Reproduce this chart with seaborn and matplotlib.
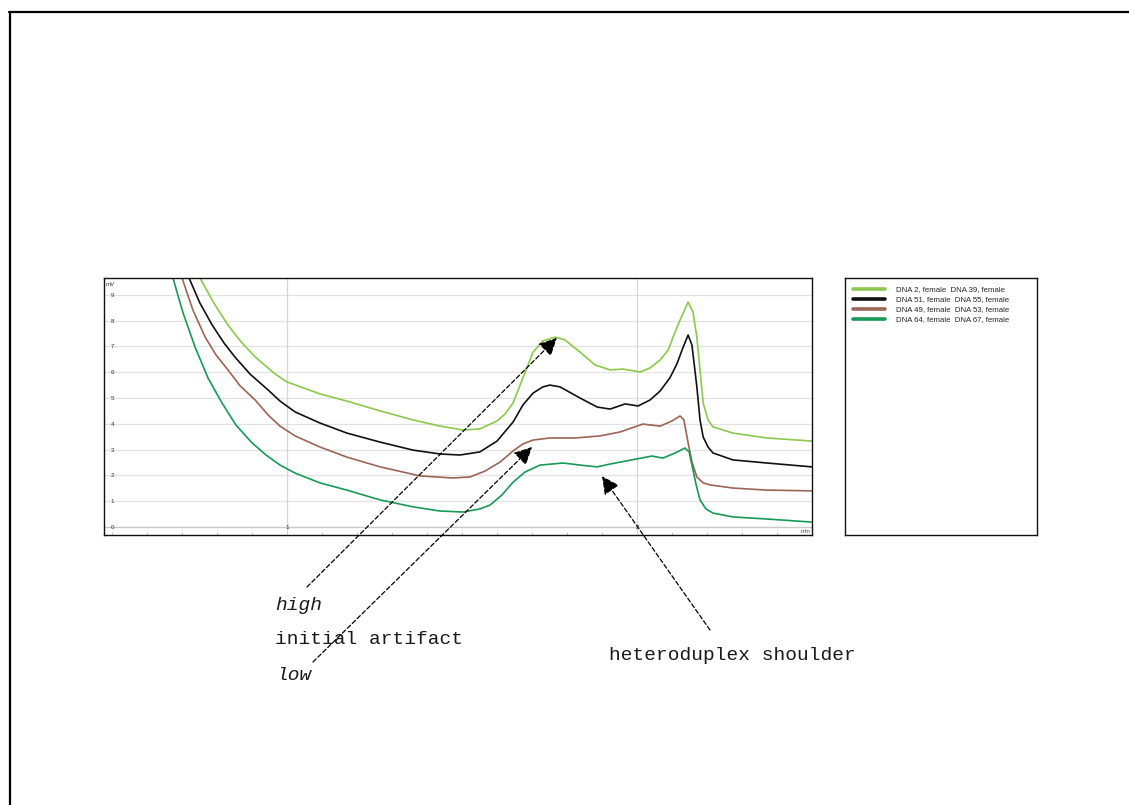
import numpy as np
import pandas as pd
import matplotlib
matplotlib.use("Agg")
import matplotlib.pyplot as plt
from matplotlib.lines import Line2D
import seaborn as sns

# Electropherogram traces (time in min, signal in mV)
labels = [
    "DNA 2, female  DNA 39, female",
    "DNA 51, female  DNA 55, female",
    "DNA 49, female  DNA 53, female",
    "DNA 64, female  DNA 67, female",
]
colors = ["#8cc84b", "#111111", "#9c6556", "#179a55"]

t_dna2 = [0.729, 0.751, 0.791, 0.831, 0.869, 0.909, 0.966, 1.000, 1.094, 1.171, 1.266,
          1.360, 1.437, 1.503, 1.551, 1.600, 1.623, 1.646, 1.674, 1.703, 1.731,
          1.766, 1.794, 1.837, 1.880, 1.923, 1.960, 2.009, 2.037, 2.066, 2.089,
          2.103, 2.123, 2.146, 2.160, 2.171, 2.180, 2.189, 2.203, 2.217, 2.274,
          2.371, 2.500]
mv_dna2 = [10.74, 9.65, 8.68, 7.83, 7.17, 6.59, 5.93, 5.62, 5.16, 4.88, 4.50,
           4.15, 3.91, 3.76, 3.80, 4.11, 4.38, 4.81, 5.78, 6.78, 7.21,
           7.36, 7.25, 6.78, 6.28, 6.09, 6.12, 6.01, 6.16, 6.47, 6.86,
           7.36, 8.02, 8.72, 8.33, 7.36, 6.09, 4.81, 4.15, 3.88, 3.64,
           3.45, 3.33]

t_dna51 = [0.700, 0.720, 0.751, 0.786, 0.820, 0.851, 0.894, 0.946, 0.980, 1.023, 1.094,
           1.171, 1.266, 1.360, 1.437, 1.494, 1.551, 1.600, 1.646, 1.674, 1.703,
           1.731, 1.751, 1.780, 1.837, 1.886, 1.923, 1.966, 2.003, 2.037, 2.066,
           2.094, 2.114, 2.131, 2.146, 2.157, 2.171, 2.180, 2.189, 2.203, 2.217,
           2.274, 2.371, 2.500]
mv_dna51 = [10.43, 9.65, 8.68, 7.83, 7.13, 6.59, 5.93, 5.31, 4.88, 4.46, 4.03,
            3.64, 3.29, 2.98, 2.83, 2.79, 2.91, 3.33, 4.07, 4.73, 5.19,
            5.43, 5.50, 5.43, 5.00, 4.65, 4.57, 4.77, 4.69, 4.92, 5.27,
            5.78, 6.32, 6.94, 7.44, 7.05, 5.43, 4.15, 3.49, 3.10, 2.87,
            2.60, 2.48, 2.33]

t_dna49 = [0.683, 0.700, 0.731, 0.766, 0.797, 0.831, 0.866, 0.909, 0.946, 0.980, 1.023,
           1.094, 1.171, 1.266, 1.380, 1.474, 1.523, 1.566, 1.609, 1.646, 1.674,
           1.703, 1.751, 1.823, 1.894, 1.951, 2.017, 2.066, 2.100, 2.123, 2.134,
           2.146, 2.157, 2.171, 2.189, 2.209, 2.274, 2.371, 2.500]
mv_dna49 = [10.43, 9.65, 8.41, 7.36, 6.67, 6.09, 5.47, 4.92, 4.34, 3.91, 3.53,
            3.10, 2.71, 2.33, 1.98, 1.90, 1.94, 2.17, 2.52, 2.95, 3.22,
            3.37, 3.45, 3.45, 3.53, 3.68, 3.99, 3.91, 4.11, 4.30, 4.15,
            3.26, 2.52, 1.94, 1.71, 1.63, 1.51, 1.43, 1.40]

t_dna64 = [0.660, 0.674, 0.703, 0.737, 0.774, 0.814, 0.854, 0.900, 0.940, 0.980, 1.023,
           1.094, 1.171, 1.266, 1.360, 1.437, 1.503, 1.551, 1.580, 1.614, 1.646,
           1.680, 1.723, 1.789, 1.837, 1.886, 1.923, 2.000, 2.043, 2.074, 2.109,
           2.137, 2.149, 2.157, 2.169, 2.180, 2.197, 2.217, 2.274, 2.371, 2.500]
mv_dna64 = [10.43, 9.65, 8.29, 6.98, 5.78, 4.81, 3.95, 3.26, 2.79, 2.40, 2.09,
            1.71, 1.43, 1.05, 0.78, 0.62, 0.58, 0.70, 0.85, 1.24, 1.74,
            2.13, 2.40, 2.48, 2.40, 2.33, 2.44, 2.64, 2.75, 2.67, 2.87,
            3.06, 2.91, 2.40, 1.63, 1.05, 0.70, 0.54, 0.39, 0.31, 0.19]

traces = [(t_dna2, mv_dna2), (t_dna51, mv_dna51), (t_dna49, mv_dna49), (t_dna64, mv_dna64)]
df = pd.concat(
    [pd.DataFrame({"time": t, "signal": s, "sample": lab}) for (t, s), lab in zip(traces, labels)],
    ignore_index=True,
)

sns.set_theme(style="white")
plt.rcParams["font.family"] = ["Liberation Sans", "DejaVu Sans"]

W, H = 1129, 805
fig = plt.figure(figsize=(W / 100, H / 100), dpi=100)
fig.patch.set_facecolor("white")

def frac(x0, y0, x1, y1):
    return [x0 / W, 1 - y1 / H, (x1 - x0) / W, (y1 - y0) / H]

ax = fig.add_axes(frac(104, 278, 812, 535))
ax.set_xlim(0.477, 2.5)
ax.set_ylim(-0.31, 9.65)

ax.set_yticks(range(0, 10))
ax.set_xticks([1, 2])
ax.set_xticks(np.arange(0.5, 2.5, 0.1), minor=True)
ax.grid(False)
for v in range(1, 10):
    ax.axhline(v, color="#e2e2e2", lw=0.9, zorder=0)
ax.axhline(0, color="#c8c8c8", lw=1.0, zorder=0)
for v in [1, 2]:
    ax.axvline(v, color="#d6d6d6", lw=0.9, zorder=0)

sns.lineplot(data=df, x="time", y="signal", hue="sample", palette=colors,
             hue_order=labels, sort=False, estimator=None, lw=1.2, ax=ax, legend=False)
for ln in ax.get_lines():
    ln.set_solid_joinstyle("round")

ax.set_xlabel("")
ax.set_ylabel("")
ax.tick_params(axis="y", which="major", direction="in", length=0, pad=-5,
               labelsize=4.5, colors="#333333")
for lab in ax.get_yticklabels():
    lab.set_horizontalalignment("left")
ax.tick_params(axis="x", which="major", direction="in", length=0, pad=-7,
               labelsize=4.5, colors="#333333")
ax.tick_params(axis="x", which="minor", direction="in", length=2, width=0.6,
               color="#bbbbbb", bottom=True)
for sp in ax.spines.values():
    sp.set_color("#111111")
    sp.set_linewidth(1.0)
ax.text(0.003, 0.985, "mV", transform=ax.transAxes, fontsize=4.5, color="#333333",
        ha="left", va="top")
ax.text(0.998, 0.004, "min", transform=ax.transAxes, fontsize=4.5, color="#555555",
        ha="right", va="bottom")

# legend panel
lax = fig.add_axes(frac(845, 278, 1037, 535))
lax.set_xticks([])
lax.set_yticks([])
for sp in lax.spines.values():
    sp.set_color("#111111")
    sp.set_linewidth(1.0)
handles = [Line2D([0], [0], color=c, lw=2.6) for c in colors]
lax.legend(handles, labels, loc="upper left", bbox_to_anchor=(0.0, 1.0), frameon=False,
           fontsize=5.6, handlelength=4.1, handletextpad=1.5, labelspacing=0.33,
           borderaxespad=0.7, borderpad=0.3)

# annotations
mono = ["Liberation Mono", "DejaVu Sans Mono"]
fs = 14
fig.text(275 / W, 1 - 605 / H, "high", family=mono, style="italic", fontsize=fs,
         ha="left", va="center", color="#1a1a1a")
fig.text(275 / W, 1 - 640 / H, "initial artifact", family=mono, fontsize=fs,
         ha="left", va="center", color="#1a1a1a")
fig.text(277 / W, 1 - 675 / H, "low", family=mono, style="italic", fontsize=fs,
         ha="left", va="center", color="#1a1a1a")
fig.text(609 / W, 1 - 655 / H, "heteroduplex shoulder", family=mono, fontsize=fs,
         ha="left", va="center", color="#1a1a1a")

arrow = dict(arrowstyle="-|>,head_length=0.9,head_width=0.45", color="black",
             lw=0.9, linestyle=(0, (3.5, 2)), shrinkA=0, shrinkB=0)
ax.annotate("", xy=(1.771, 7.33), xycoords="data", xytext=(307, H - 587),
            textcoords="figure pixels", arrowprops=arrow, annotation_clip=False)
ax.annotate("", xy=(1.700, 3.10), xycoords="data", xytext=(313, H - 662),
            textcoords="figure pixels", arrowprops=arrow, annotation_clip=False)
ax.annotate("", xy=(1.900, 1.97), xycoords="data", xytext=(710, H - 630),
            textcoords="figure pixels", arrowprops=arrow, annotation_clip=False)

# outer page border (top and left edges)
fig.add_artist(Line2D([9 / W, 1.0], [1 - 12 / H, 1 - 12 / H], transform=fig.transFigure,
                      color="black", lw=1.6))
fig.add_artist(Line2D([10 / W, 10 / W], [1 - 12 / H, 0.0], transform=fig.transFigure,
                      color="black", lw=1.6))

fig.savefig("out.png", dpi=100, facecolor="white")
